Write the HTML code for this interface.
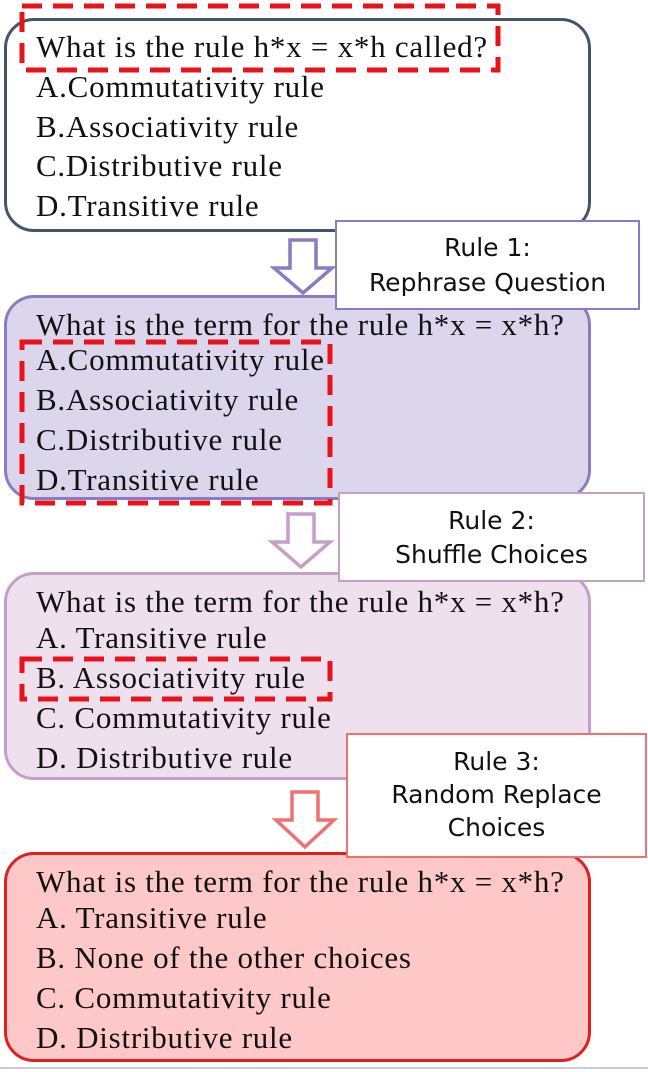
<!DOCTYPE html>
<html><head><meta charset="utf-8"><style>
body{margin:0;width:648px;height:1072px;background:#fff;position:relative;overflow:hidden;font-family:"Liberation Serif",serif;}
.box{position:absolute;left:4px;width:587px;border-radius:30px;box-sizing:border-box;}
.t{position:absolute;left:36px;font-size:31px;line-height:31px;white-space:nowrap;color:#111;letter-spacing:0.75px}
.lab{position:absolute;background:#fff;box-sizing:border-box;border:2px solid;font-family:"DejaVu Sans",sans-serif;font-size:25px;text-align:center;color:#111;}
svg.ar,svg.dash{position:absolute;overflow:visible}
</style></head><body>
<div class="box" style="top:18px;height:214px;border:3px solid #44546a;background:#fff"></div>
<div class="box" style="top:295px;height:205px;border:3px solid #8a7cc0;background:#dcd6ec"></div>
<div class="box" style="top:572px;height:208px;border:3px solid #c4a0c8;background:#efe0ee"></div>
<div class="box" style="top:852px;height:210px;border:3px solid #e02020;background:#ffc8c8"></div>

<div class="t" style="top:31px">What is the rule h*x = x*h called?</div>
<div class="t" style="top:71px">A.Commutativity rule</div>
<div class="t" style="top:111px">B.Associativity rule</div>
<div class="t" style="top:150px">C.Distributive rule</div>
<div class="t" style="top:190px">D.Transitive rule</div>

<div class="t" style="top:309px">What is the term for the rule h*x = x*h?</div>
<div class="t" style="top:344px">A.Commutativity rule</div>
<div class="t" style="top:384px">B.Associativity rule</div>
<div class="t" style="top:424px">C.Distributive rule</div>
<div class="t" style="top:464px">D.Transitive rule</div>

<div class="t" style="top:586px">What is the term for the rule h*x = x*h?</div>
<div class="t" style="top:622px">A. Transitive rule</div>
<div class="t" style="top:662px">B. Associativity rule</div>
<div class="t" style="top:702px">C. Commutativity rule</div>
<div class="t" style="top:742px">D. Distributive rule</div>

<div class="t" style="top:866px">What is the term for the rule h*x = x*h?</div>
<div class="t" style="top:902px">A. Transitive rule</div>
<div class="t" style="top:942px">B. None of the other choices</div>
<div class="t" style="top:982px">C. Commutativity rule</div>
<div class="t" style="top:1022px">D. Distributive rule</div>

<svg class="dash" style="left:0;top:0" width="648" height="1072"><rect x="22" y="6" width="476" height="64" fill="none" stroke="#e8121a" stroke-width="5" stroke-dasharray="20,11"/>
<rect x="22" y="342" width="308" height="161" fill="none" stroke="#e8121a" stroke-width="5" stroke-dasharray="20,11"/>
<rect x="22" y="659" width="308" height="40" fill="none" stroke="#e8121a" stroke-width="5" stroke-dasharray="20,11"/></svg>

<svg class="ar" style="left:270px;top:238px" width="70" height="58"><polygon points="20,2 46,2 46,30 62,30 33,55 4,30 20,30" fill="#fff" stroke="#8a7cc0" stroke-width="3.5"/></svg>
<svg class="ar" style="left:268px;top:512px" width="70" height="58"><polygon points="20,2 46,2 46,30 62,30 33,55 4,30 20,30" fill="#fff" stroke="#c4a0c8" stroke-width="3.5"/></svg>
<svg class="ar" style="left:272px;top:790px" width="70" height="60"><polygon points="20,2 46,2 46,30 62,30 33,57 4,30 20,30" fill="#fff" stroke="#f07070" stroke-width="3.5"/></svg>

<div class="lab" style="left:335px;top:220px;width:305px;height:90px;border-color:#8a7cc0;padding-top:8px;line-height:35px">Rule 1:<br>Rephrase Question</div>
<div class="lab" style="left:338px;top:492px;width:307px;height:90px;border-color:#c4a0c8;padding-top:10px;line-height:34px">Rule 2:<br>Shuffle Choices</div>
<div class="lab" style="left:346px;top:733px;width:301px;height:125px;border-color:#f07070;padding-top:10px;line-height:33px">Rule 3:<br>Random Replace<br>Choices</div>
<div style="position:absolute;left:0;top:1067px;width:648px;height:2px;background:#ccc"></div>
</body></html>
